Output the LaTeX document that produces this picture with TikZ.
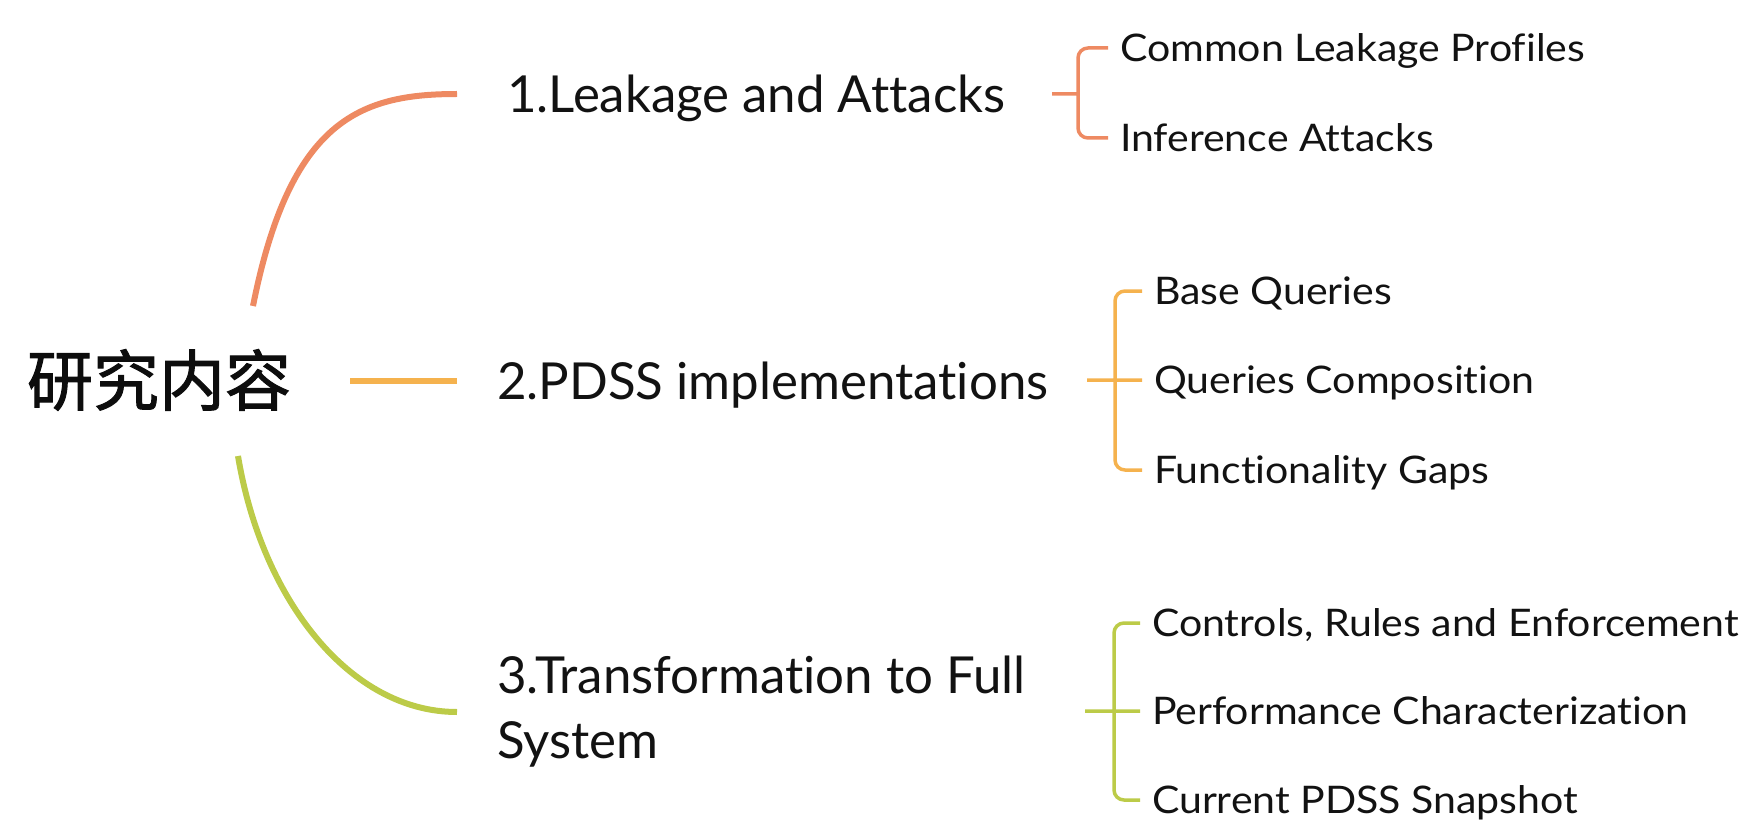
\documentclass[tikz,border=0pt]{standalone}
\usepackage{fontspec}
\setmainfont[Ligatures=NoCommon]{Lato}
\newfontfamily\subfont[FakeStretch=1.08,Ligatures=NoCommon]{Lato}
\newfontfamily\cjk[FakeBold=1.5]{Noto Sans CJK SC}
\definecolor{cam}{HTML}{EE8A62}
\definecolor{vang}{HTML}{F5B24E}
\definecolor{luc}{HTML}{BCCB48}
\tikzset{
	nhanh/.style={line width=3pt},
	ngoac/.style={line width=1.75pt,rounded corners=5pt},
	chinh/.style={inner sep=0pt,outer xsep=20pt,anchor=west,text=black!93,font=\fontsize{25.5}{32.5}\selectfont},
	motdong/.style={text height=18.3pt,text depth=0pt},
	phu/.style={inner sep=0pt,outer xsep=6pt,anchor=west,text=black!93,text height=13.6pt,text depth=0pt,font=\subfont\fontsize{19}{23}\selectfont}
}
\begin{document}
\begin{tikzpicture}[x=0.5pt,y=-0.5pt]
	\useasboundingbox (0,0) rectangle (1760,834);
	\node[inner sep=0pt,text=black!95,font=\fontsize{33}{40}\selectfont\cjk] (R) at (159,380) {研究内容};
	\path (R) ++(94,-74) coordinate (o1) (R) ++(191,1) coordinate (o2) (R) ++(79,76) coordinate (o3);
	% nhanh chinh
	\node[chinh,motdong,outer xsep=25pt] (L1) at (457,94) {1.Leakage and Attacks};
	\node[chinh,motdong] (L2) at (457,381) {2.PDSS implementations};
	\node[chinh,align=left] (L3) at (457,712) {3.Transformation to Full\\System};
	\draw[nhanh,cam] (o1) .. controls (290,120) and (360,94) .. (L1.west);
	\draw[nhanh,vang] (o2) -- (L2.west);
	\draw[nhanh,luc] (o3) .. controls (262,600) and (350,712) .. (L3.west);
	% nhanh phu
	\node[phu] (a1) at (1108,48) {Common Leakage Profiles};
	\node[phu] (a2) at (1108,138) {Inference Attacks};
	\node[phu] (b1) at (1142,291) {Base Queries};
	\node[phu] (b2) at (1142,380) {Queries Composition};
	\node[phu] (b3) at (1142,470) {Functionality Gaps};
	\node[phu] (c1) at (1140,623) {Controls, Rules and Enforcement};
	\node[phu] (c2) at (1140,711) {Performance Characterization};
	\node[phu] (c3) at (1140,800) {Current PDSS Snapshot};
	\path (1052,94) coordinate (s1) ++(26,0) coordinate (j1)
		(1087,380) coordinate (s2) ++(28,0) coordinate (j2)
		(1085,711) coordinate (s3) ++(29,0) coordinate (j3);
	\draw[ngoac,cam] (a1.west) -| (j1) |- (a2.west) (s1)--(j1);
	\draw[ngoac,vang] (b1.west) -| (j2) |- (b3.west) (s2)--(b2.west);
	\draw[ngoac,luc] (c1.west) -| (j3) |- (c3.west) (s3)--(c2.west);
\end{tikzpicture}
\end{document}
